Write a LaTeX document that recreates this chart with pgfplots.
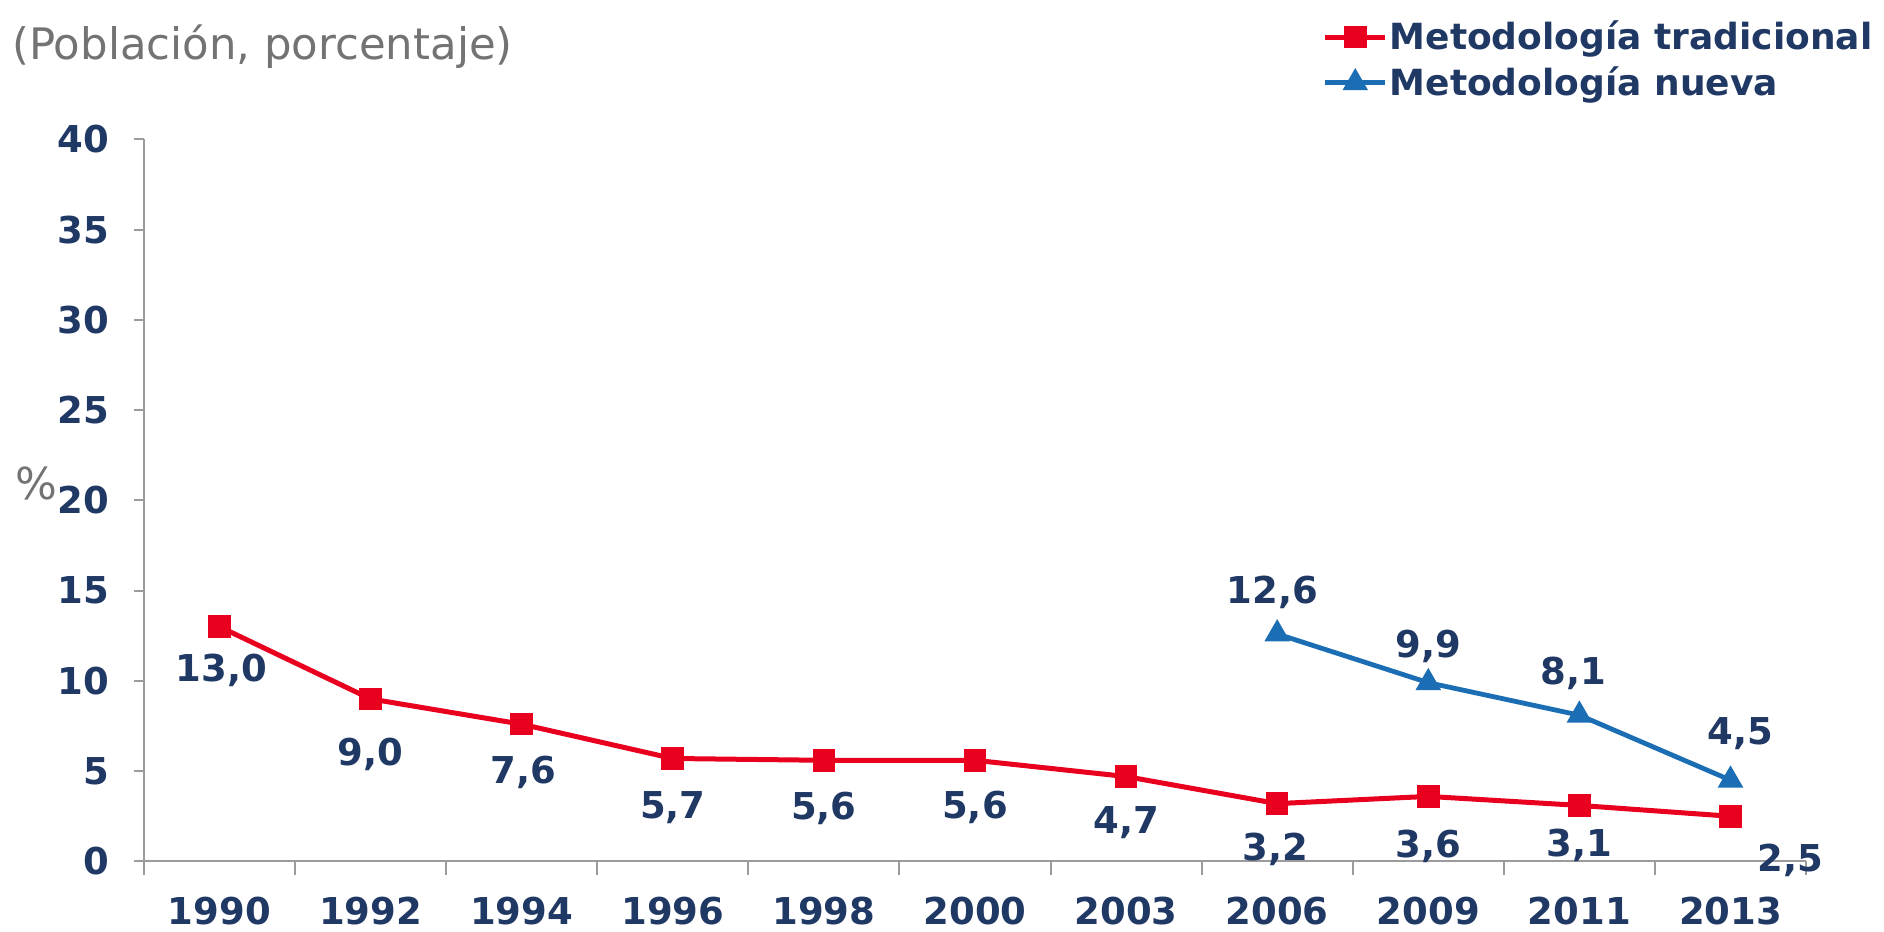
\documentclass[border=0pt]{standalone}
\usepackage{pgfplots}
\pgfplotsset{compat=1.18}
\usepackage{pgfplotstable}
\usepackage{fontspec}
\setmainfont{DejaVu Sans}
\definecolor{navy}{RGB}{31,56,100}
\definecolor{cred}{RGB}{232,0,30}
\definecolor{cblue}{RGB}{28,110,180}
\definecolor{tgray}{RGB}{115,115,115}
\definecolor{agray}{RGB}{155,155,155}

\pgfplotstableread{
x y dx dy lab
0 13.0 1 -22 13,0
1 9.0 0 -27.6 9,0
2 7.6 1 -24 7,6
3 5.7 0 -24.6 5,7
4 5.6 0 -24 5,6
5 5.6 0 -23.4 5,6
6 4.7 0 -22.8 4,7
7 3.2 -1 -22.8 3,2
8 3.6 0 -25 3,6
9 3.1 0 -20 3,1
10 2.5 30 -22 2,5
}\tradicional

\pgfplotstableread{
x y dx dy lab
7 12.6 -2.4 21 12,6
8 9.9 0 18 9,9
9 8.1 -3 21 8,1
10 4.5 4.8 23.4 4,5
}\nueva

\begin{document}
\begin{tikzpicture}
\begin{axis}[
  scale only axis, width=831pt, height=361pt,
  xmin=-0.5, xmax=10.5, ymin=0, ymax=40,
  axis lines=left, axis line style={-, agray, line width=1pt},
  clip=false,
  tick align=outside,
  xtick={0,...,10},
  xticklabels={1990,1992,1994,1996,1998,2000,2003,2006,2009,2011,2013},
  major x tick style={draw=none},
  minor xtick={-0.5,0.5,1.5,2.5,3.5,4.5,5.5,6.5,7.5,8.5,9.5,10.5},
  minor x tick style={agray, line width=1pt},
  minor tick length=7pt,
  ytick={0,5,...,40},
  yticklabels={0,5,10,15,20,25,30,35,40},
  major y tick style={agray, line width=1pt},
  major tick length=5pt,
  tick label style={font=\fontsize{18.5}{21}\selectfont\bfseries, text=navy},
  xticklabel style={inner sep=0pt},
  xticklabel shift=12.5pt,
  yticklabel shift=9pt,
  legend style={draw=none, fill=none, at={(0.709,1.167)}, anchor=north west,
    inner sep=0pt, font=\fontsize{18}{22}\selectfont\bfseries, text=navy,
    row sep=5pt, nodes={inner sep=1pt}},
  legend cell align=left,
  legend image code/.code={\draw[mark repeat=2,mark phase=2] plot coordinates {(0pt,0pt)(15pt,0pt)(30pt,0pt)};},
  point meta=explicit symbolic,
  visualization depends on={\thisrow{dx} \as \dx},
  visualization depends on={\thisrow{dy} \as \dy},
  nodes near coords,
  nodes near coords style={anchor=center, xshift=\dx pt, yshift=\dy pt,
    font=\fontsize{18.5}{21}\selectfont\bfseries, text=navy, inner sep=0pt},
]
\addplot[cred, line width=2.5pt, mark=square*, mark size=4.4pt, mark options={solid}]
  table[x=x, y=y, meta=lab] {\tradicional};
\addlegendentry{Metodología tradicional}
\addplot[cblue, line width=2.4pt, mark=triangle*, mark size=5pt, mark options={solid}]
  table[x=x, y=y, meta=lab] {\nueva};
\addlegendentry{Metodología nueva}

\node[anchor=base west, inner sep=0pt, text=tgray, font=\fontsize{21.7}{24}\selectfont]
  at (rel axis cs:-0.0794,1.110) {(Población, porcentaje)};
\node[anchor=center, inner sep=0pt, text=tgray, font=\fontsize{22}{24}\selectfont]
  at (rel axis cs:-0.0644,0.523) {\%};
\coordinate (BL) at (rel axis cs:-0.0866,-0.0965);
\coordinate (TR) at (rel axis cs:1.0469,1.193);
\end{axis}
\pgfresetboundingbox
\path[use as bounding box] (BL) rectangle (TR);
\end{tikzpicture}
\end{document}
